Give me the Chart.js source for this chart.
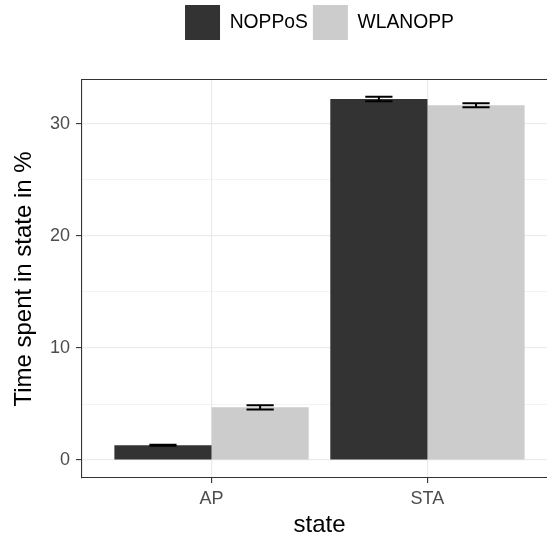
<!DOCTYPE html>
<html>
<head>
<meta charset="utf-8">
<script src="https://cdn.jsdelivr.net/npm/chart.js@4"></script>
<style>
  html, body { margin: 0; padding: 0; background: #fff; overflow: hidden; }
  #wrap { width: 547px; height: 541px; overflow: hidden; }
  canvas { display: block; }
</style>
</head>
<body>
<div id="wrap"><canvas id="myChart" width="557" height="541"></canvas></div>
<script>
// time spent per state, mean and error
var states = ['AP', 'STA'];
var nopposValues = [1.32, 32.2];
var nopposErrors = [0.05, 0.2];
var wlanoppValues = [4.7, 31.65];
var wlanoppErrors = [0.19, 0.17];
var yTicks = [0, 10, 20, 30];

var FONT = '"Liberation Sans", Arial, Helvetica, sans-serif';

function points(values) {
    return values.map(function(v, i) { return {x: i + 1, y: v}; });
}

// minor breaks halfway between the labelled ones
var yAll = [];
yTicks.forEach(function(v, i) {
    yAll.push(v);
    if (i < yTicks.length - 1) yAll.push((v + yTicks[i + 1]) / 2);
});

function isMajor(c) {
    return c.tick && yTicks.indexOf(c.tick.value) !== -1;
}

var errorBars = {
    id: 'errorBars',
    afterDatasetsDraw: function(chart) {
        var ctx = chart.ctx, y = chart.scales.y;
        ctx.save();
        ctx.strokeStyle = '#000';
        ctx.lineWidth = 2;
        chart.data.datasets.forEach(function(ds, i) {
            chart.getDatasetMeta(i).data.forEach(function(bar, j) {
                var v = ds.data[j].y, e = ds.errors[j];
                var top = y.getPixelForValue(v + e);
                var bot = y.getPixelForValue(v - e);
                var half = bar.width * 0.14;
                ctx.beginPath();
                ctx.moveTo(bar.x - half, top); ctx.lineTo(bar.x + half, top);
                ctx.moveTo(bar.x, top); ctx.lineTo(bar.x, bot);
                ctx.moveTo(bar.x - half, bot); ctx.lineTo(bar.x + half, bot);
                ctx.stroke();
            });
        });
        ctx.restore();
    }
};

var ctx = document.getElementById('myChart').getContext('2d');
var myChart = new Chart(ctx, {
    type: 'bar',
    data: {
        datasets: [{
            label: 'NOPPoS',
            data: points(nopposValues),
            errors: nopposErrors,
            backgroundColor: '#333333',
            borderWidth: 0
        }, {
            label: 'WLANOPP',
            data: points(wlanoppValues),
            errors: wlanoppErrors,
            backgroundColor: '#cccccc',
            borderWidth: 0
        }]
    },
    plugins: [errorBars],
    options: {
        responsive: false,
        animation: false,
        layout: { padding: 0 },
        datasets: { bar: { categoryPercentage: 0.9, barPercentage: 1.0 } },
        plugins: {
            tooltip: { enabled: false },
            legend: {
                position: 'top',
                fullSize: false,
                labels: {
                    boxWidth: 35,
                    boxHeight: 35,
                    padding: 5,
                    color: '#000',
                    font: { family: FONT, size: 19.3 }
                }
            }
        },
        scales: {
            x: {
                type: 'linear',
                offset: false,
                min: 0.4,
                max: 2.6,
                afterBuildTicks: function(s) {
                    s.ticks = states.map(function(c, i) { return {value: i + 1}; });
                },
                afterFit: function(s) { s.height = 63; },
                grid: { offset: false, color: '#ebebeb', lineWidth: 1.2, tickColor: '#333333', tickLength: 5, tickWidth: 1.1 },
                border: { color: '#333333', width: 1.1 },
                ticks: {
                    padding: 5,
                    color: '#4d4d4d',
                    font: { family: FONT, size: 18 },
                    callback: function(v) { return states[v - 1]; }
                },
                title: {
                    display: true,
                    text: 'state',
                    color: '#000',
                    font: { family: FONT, size: 24 },
                    padding: { top: 0, bottom: 1 }
                }
            },
            x2: {
                type: 'linear',
                position: 'top',
                display: true,
                min: 0,
                max: 1,
                afterFit: function(s) { s.height = 30; },
                grid: { display: false, drawTicks: false },
                border: { display: true, color: '#333333', width: 1.1 },
                ticks: { display: false }
            },
            y: {
                min: -1.6,
                max: 33.9,
                afterBuildTicks: function(s) {
                    s.ticks = yAll.map(function(v) { return {value: v}; });
                },
                afterFit: function(s) { s.width = 82; },
                grid: {
                    color: '#ebebeb',
                    lineWidth: function(c) { return isMajor(c) ? 1.2 : 0.6; },
                    tickColor: function(c) { return isMajor(c) ? '#333333' : 'rgba(0,0,0,0)'; },
                    tickLength: 6,
                    tickWidth: 1.1
                },
                border: { color: '#333333', width: 1.1 },
                ticks: {
                    padding: 6,
                    color: '#4d4d4d',
                    font: { family: FONT, size: 18 },
                    callback: function(v) { return yTicks.indexOf(v) !== -1 ? v : ''; }
                },
                title: {
                    display: true,
                    text: 'Time spent in state in %',
                    color: '#000',
                    font: { family: FONT, size: 24 },
                    padding: { top: 10, bottom: 0 }
                }
            }
        }
    }
});
</script>
</body>
</html>
